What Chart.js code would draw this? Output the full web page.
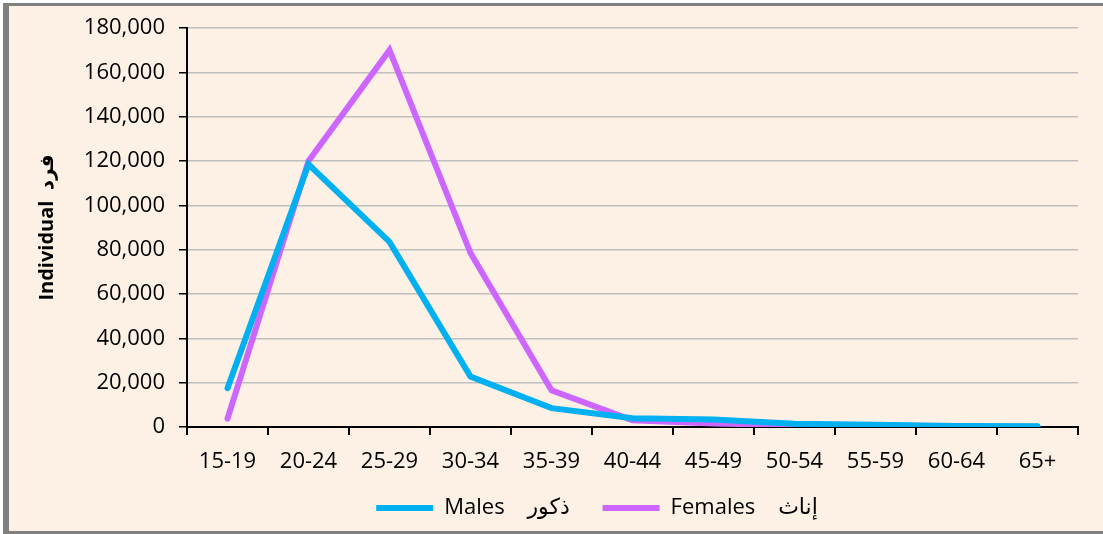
<!DOCTYPE html>
<html>
<head>
<meta charset="utf-8">
<script src="https://cdn.jsdelivr.net/npm/chart.js@4"></script>
<style>
  html, body { margin: 0; padding: 0; background: #ffffff; }
  #frame {
    position: absolute; left: 3px; top: 3px;
    width: 1110px; height: 525px;
    border-style: solid; border-color: #808080;
    border-width: 3px 3px 3px 6px;
    background: #fdf1e6;
  }
  #wrap { position: absolute; left: 0; top: 0; width: 1103px; height: 534px; }
</style>
</head>
<body>
<div id="frame"></div>
<div id="wrap"><canvas id="ageChart"></canvas></div>
<script>
const ageGroups = ["15-19", "20-24", "25-29", "30-34", "35-39", "40-44", "45-49", "50-54", "55-59", "60-64", "65+"];
const males = [17500, 118500, 83500, 22800, 8500, 4000, 3400, 1500, 1000, 500, 300];
const females = [3800, 120000, 170000, 78500, 16600, 3000, 1600, 800, 400, 200, 100];
const yTicks = [0, 20000, 40000, 60000, 80000, 100000, 120000, 140000, 160000, 180000];

const FONT = "'Open Sans', 'DejaVu Sans', sans-serif";

// moves the legend sideways so it sits where the original one does
const legendShift = {
  id: 'legendShift',
  afterLayout(chart) {
    if (chart.legend) {
      chart.legend.left += 58;
      chart.legend.right += 58;
    }
  }
};

function renderLineChart() {
  const ctx = document.getElementById("ageChart").getContext("2d");

  new Chart(ctx, {
    type: 'line',
    data: {
      labels: ageGroups,
      datasets: [{
        label: 'Males    ذكور    ',
        data: males,
        borderColor: '#00b0f0',
        backgroundColor: '#00b0f0',
        borderWidth: 6,
        borderCapStyle: 'round',
        pointRadius: 0,
        tension: 0
      }, {
        label: 'Females    إناث',
        data: females,
        borderColor: '#cc66ff',
        backgroundColor: '#cc66ff',
        borderWidth: 6,
        borderCapStyle: 'round',
        pointRadius: 0,
        tension: 0
      }]
    },
    options: {
      responsive: false,
      animation: false,
      layout: { padding: { left: 0, right: 25, top: 28, bottom: 5 } },
      scales: {
        x: {
          offset: true,
          grid: { offset: true, drawOnChartArea: false, tickColor: '#000', tickLength: 8, lineWidth: 2 },
          border: { color: '#000', width: 2 },
          ticks: { color: '#000', font: { family: FONT, size: 22 }, padding: 14, maxRotation: 0 },
          afterFit: (scale) => { scale.height = 60; }
        },
        y: {
          min: 0,
          max: 180000,
          afterBuildTicks: (scale) => { scale.ticks = yTicks.map(v => ({ value: v })); },
          grid: { color: '#bfbfbf', lineWidth: 1.5, tickColor: '#000', tickLength: 8 },
          border: { color: '#000', width: 2 },
          ticks: {
            color: '#000',
            font: { family: FONT, size: 22 },
            padding: 14,
            callback: (v) => v.toLocaleString('en-US')
          },
          title: {
            display: true,
            text: 'Individual  فرد',
            color: '#000',
            font: { family: FONT, size: 20, weight: 'bold' },
            padding: { top: 35, bottom: 0 }
          },
          afterFit: (scale) => { scale.width = 187; }
        }
      },
      plugins: {
        legend: {
          position: 'bottom',
          labels: {
            color: '#000',
            font: { family: FONT, size: 22 },
            usePointStyle: true,
            pointStyle: 'line',
            pointStyleWidth: 57,
            padding: 10
          }
        },
        tooltip: { enabled: false }
      }
    },
    plugins: [legendShift]
  });
}

const cv = document.getElementById("ageChart");
cv.width = 1103;
cv.height = 534;
window.onload = renderLineChart;
</script>
</body>
</html>
